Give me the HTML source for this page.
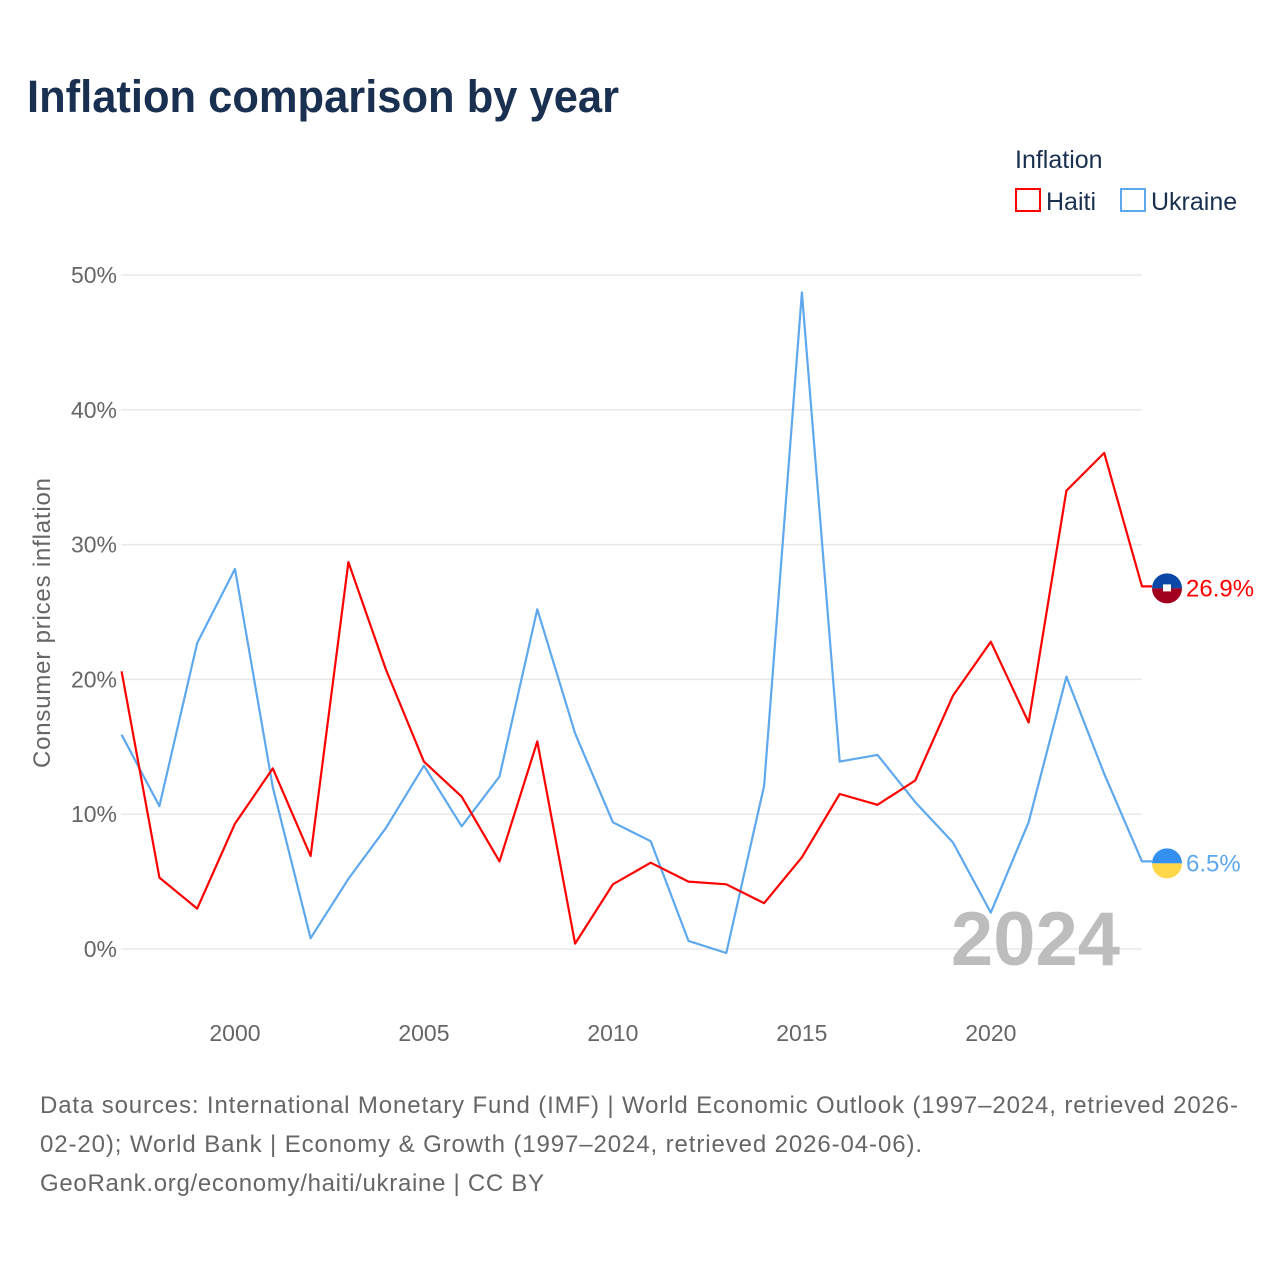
<!DOCTYPE html>
<html><head><meta charset="utf-8"><style>
body{margin:0;background:#fff;font-family:"Liberation Sans",sans-serif}
svg text{font-family:"Liberation Sans",sans-serif}
</style></head><body>
<svg id="chart" width="1280" height="1280" viewBox="0 0 1280 1280" xmlns="http://www.w3.org/2000/svg">
<rect width="1280" height="1280" fill="#fff"/>
<text x="27" y="112" font-size="45" font-weight="bold" fill="#1a3050" textLength="592" lengthAdjust="spacingAndGlyphs">Inflation comparison by year</text>
<text x="1015" y="168" font-size="25" fill="#1a3050">Inflation</text>
<g><rect x="1016" y="189" width="24" height="22" fill="none" stroke="#ff0000" stroke-width="2"/><text x="1046" y="210" font-size="25" fill="#1a3050">Haiti</text></g>
<g><rect x="1121" y="189" width="24" height="22" fill="none" stroke="#5ea8ee" stroke-width="2"/><text x="1151" y="210" font-size="25" fill="#1a3050">Ukraine</text></g>
<text transform="translate(50,623) rotate(-90)" text-anchor="middle" font-size="24" fill="#666" textLength="290">Consumer prices inflation</text>
<g id="grid"></g><g id="xt"></g>
<text x="1120" y="965" text-anchor="end" font-size="76" font-weight="bold" fill="#bdbdbd">2024</text>
<g id="series"></g>
<text font-size="24" fill="#666"><tspan x="40" y="1113" textLength="1198">Data sources: International Monetary Fund (IMF) | World Economic Outlook (1997–2024, retrieved 2026-</tspan><tspan x="40" y="1152" textLength="882">02-20); World Bank | Economy &amp; Growth (1997–2024, retrieved 2026-04-06).</tspan><tspan x="40" y="1191" textLength="504">GeoRank.org/economy/haiti/ukraine | CC BY</tspan></text>
</svg>
<script>
const years=[1997,1998,1999,2000,2001,2002,2003,2004,2005,2006,2007,2008,2009,2010,2011,2012,2013,2014,2015,2016,2017,2018,2019,2020,2021,2022,2023,2024];
const haiti=[20.6,5.3,3.0,9.3,13.4,6.9,28.7,20.7,13.9,11.3,6.5,15.4,0.4,4.8,6.4,5.0,4.8,3.4,6.8,11.5,10.7,12.5,18.8,22.8,16.8,34.0,36.8,26.9];
const ukraine=[15.9,10.6,22.7,28.2,12.0,0.8,5.2,9.0,13.6,9.1,12.8,25.2,16.0,9.4,8.0,0.6,-0.3,12.1,48.7,13.9,14.4,10.9,7.9,2.7,9.4,20.2,13.0,6.5];
const yTicks=[0,10,20,30,40,50];
const xTicks=[2000,2005,2010,2015,2020];
const NS="http://www.w3.org/2000/svg";
const X=v=>121.6+(v-1997)*(1142-121.6)/27;
const Y=v=>949-v*13.48;
function mk(t,a,p){const e=document.createElementNS(NS,t);for(const k in a)e.setAttribute(k,a[k]);p.appendChild(e);return e;}
const grid=document.getElementById('grid'),xt=document.getElementById('xt'),ser=document.getElementById('series');
yTicks.forEach(t=>{
 const l=mk('line',{x1:121,x2:1142,y1:Y(t),y2:Y(t),stroke:'#e8e8e8','stroke-width':1.5},grid);
 
 
 const tx=mk('text',{x:117,y:Y(t)+8,'text-anchor':'end','font-size':23,fill:'#666'},grid);
 tx.textContent=t+'%';
 
 
});
xTicks.forEach(t=>{
 const tx=mk('text',{x:X(t),y:1041,'text-anchor':'middle','font-size':23,fill:'#666'},xt);
 tx.textContent=t;
 
 
});
function draw(vals,color,name,fmt){
 let d=vals.map((v,i)=>(i?'L':'M')+X(years[i]).toFixed(1)+','+Y(v).toFixed(1)).join(' ');
 const last=vals[vals.length-1];
 d+=' L1152,'+Y(last).toFixed(1);
 const p=mk('path',{d:d,fill:'none',stroke:color,'stroke-width':2.2,'stroke-linejoin':'round'},ser);
 
 
 const g=mk('g',{},ser);
 
 
 const cy=Y(last)+2;
 if(name==='haiti'){
  mk('path',{d:`M1152,${cy} A15,15 0 0 1 1182,${cy} Z`,fill:'#0a48a8'},g);
  mk('path',{d:`M1152,${cy} A15,15 0 0 0 1182,${cy} Z`,fill:'#a3001e'},g);
  mk('rect',{x:1163,y:cy-4,width:8,height:7,fill:'#fff'},g);
 }else{
  mk('path',{d:`M1152,${cy} A15,15 0 0 1 1182,${cy} Z`,fill:'#3490f0'},g);
  mk('path',{d:`M1152,${cy} A15,15 0 0 0 1182,${cy} Z`,fill:'#ffd84a'},g);
 }
 const t=mk('text',{x:1186,y:cy+8,'font-size':24,fill:color},ser);
 t.textContent=fmt;
 
 
}
draw(ukraine,'#5ea8ee','ukraine',ukraine[ukraine.length-1].toFixed(1)+'%');
draw(haiti,'#ff0000','haiti',haiti[haiti.length-1].toFixed(1)+'%');
</script>
</body></html>
